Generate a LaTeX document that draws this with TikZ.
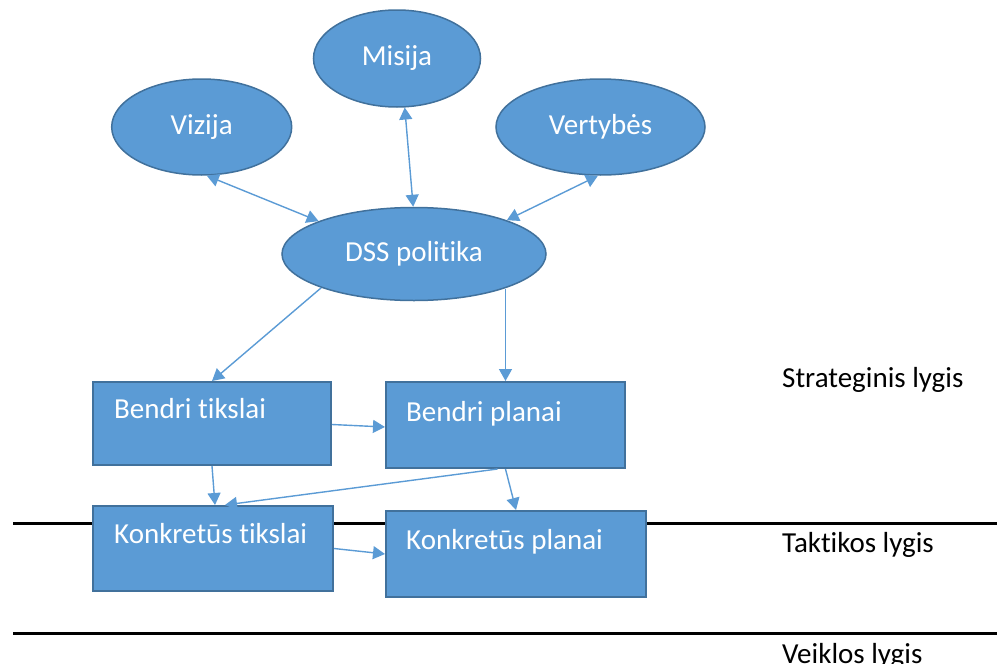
\documentclass[tikz,border=0pt]{standalone}
\usepackage{fontspec}
\setmainfont{Carlito}[Ligatures={NoCommon,NoRequired,NoContextual}]
\usetikzlibrary{shapes.geometric,arrows.meta,calc}
\definecolor{fillblue}{HTML}{5B9BD5}
\definecolor{edgeblue}{HTML}{41719C}
\begin{document}
\begin{tikzpicture}[x=1pt,y=-1pt,
  bigfont/.style={font=\fontsize{29}{34}\selectfont},
  oval/.style={ellipse, draw=edgeblue, line width=1.5pt, fill=fillblue, text=white, bigfont, inner sep=0pt},
  boxnode/.style={rectangle, draw=edgeblue, line width=2pt, fill=fillblue, inner sep=0pt},
  boxtext/.style={anchor=base west, text=white, bigfont, inner sep=0pt},
  lvl/.style={anchor=base west, text=black, bigfont, inner sep=0pt},
  conn/.style={draw=fillblue, line width=1.4pt, -{Triangle[length=12pt,width=13pt]}},
  biconn/.style={draw=fillblue, line width=1.4pt, {Triangle[length=12pt,width=13pt]}-{Triangle[length=12pt,width=13pt]}},
  levelline/.style={draw=black, line width=3pt}]
\useasboundingbox (0,0) rectangle (997,664);

% level lines
\coordinate (l1a) at (13,523);
\coordinate (l1b) at (997,523);
\coordinate (l2a) at (13,633);
\coordinate (l2b) at (997,633);
\draw[levelline] (l1a) -- (l1b);
\draw[levelline] (l2a) -- (l2b);

% ellipses
\node[oval, minimum width=180pt, minimum height=96pt] (viz) at (201.7,127) {Vizija};
\node[oval, minimum width=167pt, minimum height=97pt] (mis) at (397,58.5) {Misija};
\node[oval, minimum width=209pt, minimum height=96pt] (ver) at (600.5,127) {Vertybės};
\node[oval, minimum width=264pt, minimum height=93pt] (dss) at (414,254) {DSS politika};

% boxes
\node[boxnode, minimum width=238pt, minimum height=83pt] (bt) at (212,423.5) {};
\node[boxnode, minimum width=239pt, minimum height=86pt] (bp) at (505.5,425) {};
\node[boxnode, minimum width=240pt, minimum height=85pt] (kt) at (213,548.5) {};
\node[boxnode, minimum width=260pt, minimum height=86pt] (kp) at (516,554) {};

\node[boxtext] (btt) at ($(bt.north west)+(22,37)$) {Bendri tikslai};
\node[boxtext] (bpt) at ($(bp.north west)+(21,40)$) {Bendri planai};
\node[boxtext] (ktt) at ($(kt.north west)+(22,38)$) {Konkretūs tikslai};
\node[boxtext] (kpt) at ($(kp.north west)+(21,39)$) {Konkretūs planai};

% level labels
\node[lvl] (s1) at (782,387) {Strateginis lygis};
\node[lvl] (s2) at (782,552) {Taktikos lygis};
\node[lvl] (s3) at (782,663) {Veiklos lygis};

% connectors
\draw[biconn] (viz.-84) -- (dss.161);
\draw[biconn] (mis.-81) -- (dss.91);
\draw[biconn] (ver.-93) -- (dss.20);
\draw[conn] (dss.200) -- (bt.north);
\draw[conn] (dss.-22 -| bp.north) -- (bp.north);
\draw[conn] ($(bt.east)+(0,1)$) -- ($(bp.west)+(0,2)$);
\draw[conn] (bt.south) -- ($(kt.north)+(2,0)$);
\draw[conn] ($(bp.south)+(-8,0)$) -- ($(kt.north)+(12,0)$);
\draw[conn] (bp.south) -- (kp.north);
\draw[conn] (kt.east) -- (kp.west);
\end{tikzpicture}
\end{document}
